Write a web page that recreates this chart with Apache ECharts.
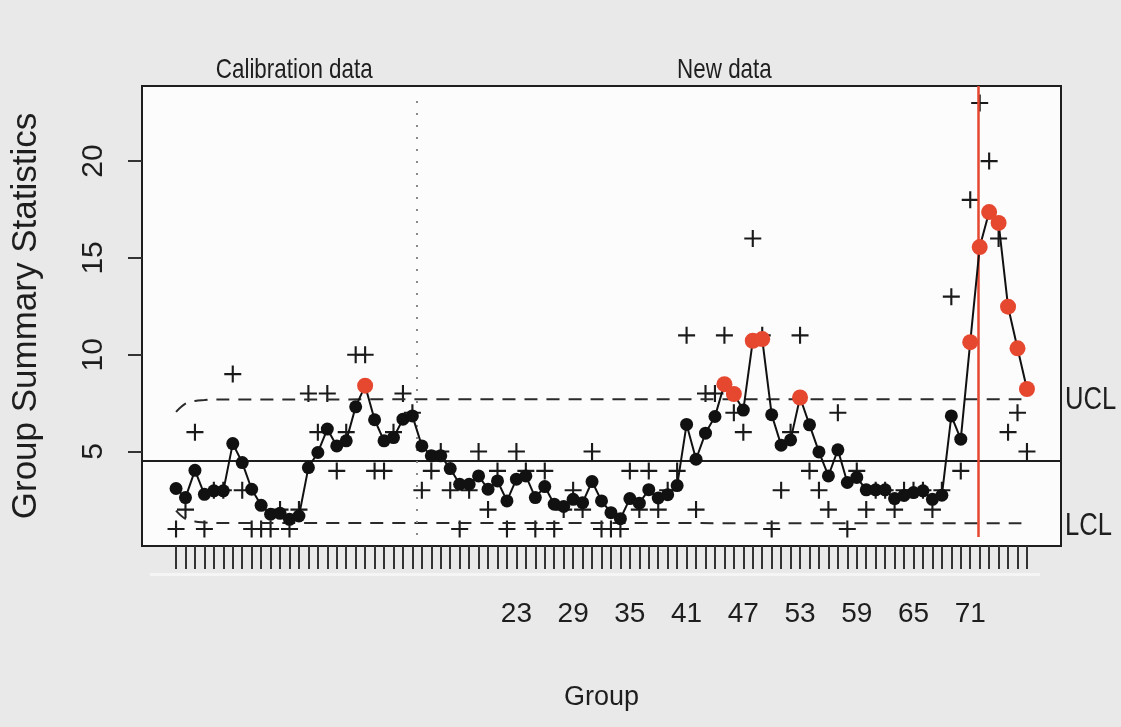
<!DOCTYPE html>
<html>
<head>
<meta charset="utf-8">
<script src="https://cdn.jsdelivr.net/npm/echarts@6/dist/echarts.min.js"></script>
<style>
  html, body { margin: 0; padding: 0; background: #e9e9e9; }
  #chart { width: 1121px; height: 727px; }
</style>
</head>
<body>
<div id="chart"></div>
<script>
// EWMA control chart: group statistics (+), smoothed statistic (dots + line),
// centre line and control limits, calibration vs. new data.

// Group summary statistics, one per group (plotted as "+")
const groupStats = [
  1, 2, 6, 1, 3, 3, 9, 3, 1, 1, 1, 2, 1, 2, 8, 6, 8, 4, 6, 10,
  10, 4, 4, 6, 8, 7, 3, 4, 5, 3, 1, 3, 5, 2, 4, 1, 5, 4, 1, 4,
  1, 2, 3, 2, 5, 1, 1, 1, 4, 2, 4, 2, 3, 4, 11, 2, 8, 8, 11, 7,
  6, 16, 11, 1, 3, 6, 11, 4, 3, 2, 7, 1, 4, 2, 3, 3, 2, 3, 3, 3,
  2, 3, 13, 4, 18, 23, 20, 16, 6, 7, 5
];

// Smoothed (EWMA) statistic, one per group (plotted as dots joined by a line)
const ewmaStats = [
  3.09, 2.62, 4.03, 2.79, 2.97, 2.97, 5.41, 4.43, 3.05, 2.22,
  1.76, 1.81, 1.50, 1.67, 4.17, 4.95, 6.16, 5.29, 5.55, 7.31,
  8.40, 6.64, 5.55, 5.72, 6.67, 6.84, 5.29, 4.78, 4.78, 4.12,
  3.31, 3.31, 3.74, 3.05, 3.48, 2.45, 3.57, 3.74, 2.62, 3.19,
  2.28, 2.16, 2.53, 2.36, 3.45, 2.45, 1.84, 1.53, 2.57, 2.33,
  3.03, 2.60, 2.77, 3.24, 6.40, 4.60, 5.95, 6.81, 8.48, 7.97,
  7.14, 10.72, 10.81, 6.90, 5.33, 5.60, 7.79, 6.38, 4.98, 3.74,
  5.09, 3.40, 3.66, 3.02, 3.02, 3.02, 2.57, 2.73, 2.88, 2.97,
  2.53, 2.74, 6.84, 5.64, 10.65, 15.56, 17.37, 16.81, 12.48, 10.33,
  8.23
];

// Centre line and control limits (limits widen over the first groups)
const centerLine = 4.5;
const uclSteps = [[0, 7.05], [1, 7.48], [2, 7.61], [3, 7.66], [4, 7.69], [90, 7.70]];
const lclSteps = [[0, 1.95], [1, 1.52], [2, 1.39], [3, 1.34], [4, 1.31], [90, 1.30]];
const uclValue = 7.70;
const lclValue = 1.30;

// Number of calibration groups; the remaining groups are new data
const calibrationCount = 26;
// Group index at which the change is flagged
const changeIndex = 84.9;

// x tick labels and the group indices where they are printed
const xTickLabels = ['23', '29', '35', '41', '47', '53', '59', '65', '71'];
const xTickIndices = [36, 42, 48, 54, 60, 66, 72, 78, 84];
const yTickValues = [5, 10, 15, 20];

const nGroups = ewmaStats.length;
const pad = (nGroups - 1) * 0.04;
const xMin = -pad, xMax = nGroups - 1 + pad;
const yMin = 0.12, yMax = 23.88;

const RED = '#e5472f';
const INK = '#1e1e1e';
const SANS = "'Liberation Sans', Arial, sans-serif";

const allIdx = ewmaStats.map((_, i) => i);
const labelByIndex = {};
xTickIndices.forEach((ix, k) => { labelByIndex[ix] = xTickLabels[k]; });

const crossPath = 'path://M7,0h2v16h-2z M0,7h16v2h-16z';

const ewmaPoints = ewmaStats.map((v, i) => {
  const out = v > uclValue;
  return {
    value: [i, v],
    symbolSize: out ? 16 : 13,
    itemStyle: { color: out ? RED : '#111' }
  };
});

const chart = echarts.init(document.getElementById('chart'), null, { renderer: 'canvas' });

chart.setOption({
  backgroundColor: '#e9e9e9',
  animation: false,
  grid: {
    left: 142, right: 60, top: 86, bottom: 181,
    outerBoundsMode: 'none', containLabel: false,
    show: true, backgroundColor: '#fcfcfd', borderColor: INK, borderWidth: 2
  },
  xAxis: {
    type: 'value', min: xMin, max: xMax,
    name: 'Group', nameLocation: 'middle', nameGap: 138,
    nameTextStyle: { fontFamily: SANS, fontSize: 27, color: INK },
    axisLine: { show: false, onZero: false },
    splitLine: { show: false },
    axisTick: { show: true, length: 23, customValues: allIdx, lineStyle: { color: '#333', width: 2 } },
    axisLabel: {
      show: true, customValues: xTickIndices, margin: 54,
      fontFamily: SANS, fontSize: 28, color: INK,
      formatter: (v) => labelByIndex[Math.round(v)] || ''
    }
  },
  yAxis: {
    type: 'value', min: yMin, max: yMax,
    name: 'Group Summary Statistics', nameLocation: 'middle', nameGap: 98, nameRotate: 90,
    nameTextStyle: { fontFamily: SANS, fontSize: 35, color: INK },
    axisLine: { show: false, onZero: false },
    splitLine: { show: false },
    axisTick: { show: true, length: 14, customValues: yTickValues, lineStyle: { color: '#333', width: 2 } },
    axisLabel: {
      show: true, customValues: yTickValues, rotate: 90, margin: 33,
      fontFamily: SANS, fontSize: 30, color: INK
    }
  },
  series: [
    {
      // centre line and change markers
      type: 'line', data: [], silent: true,
      markLine: {
        silent: true, symbol: 'none', label: { show: false },
        data: [
          [{ coord: [xMin, centerLine], lineStyle: { color: INK, width: 2, type: 'solid' } },
           { coord: [xMax, centerLine] }],
          [{ coord: [calibrationCount - 0.5, 0.69], lineStyle: { color: '#8a8a8a', width: 2, type: [2, 10] } },
           { coord: [calibrationCount - 0.5, 23.31] }],
          [{ coord: [changeIndex, 0.58], lineStyle: { color: RED, width: 2.5, type: 'solid' } },
           { coord: [changeIndex, yMax] }]
        ]
      }
    },
    {
      name: 'UCL', type: 'line', data: uclSteps, symbol: 'none', silent: true,
      smooth: 0.4,
      lineStyle: { color: '#2a2a2a', width: 2, type: [13, 9] }
    },
    {
      name: 'LCL', type: 'line', data: lclSteps, symbol: 'none', silent: true,
      smooth: 0.4,
      lineStyle: { color: '#2a2a2a', width: 2, type: [13, 9] }
    },
    {
      name: 'Group statistic', type: 'scatter',
      data: groupStats.map((v, i) => [i, v]),
      symbol: crossPath, symbolSize: 17,
      itemStyle: { color: '#1a1a1a', opacity: 1 }, silent: true
    },
    {
      name: 'EWMA', type: 'line', data: ewmaPoints,
      symbol: 'circle', showAllSymbol: true,
      lineStyle: { color: '#111', width: 2 },
      z: 5
    }
  ]
});

// Annotations placed through the chart's own scales
const px = (x, y) => chart.convertToPixel({ gridIndex: 0 }, [x, y]);
const calMid = px((calibrationCount - 1) / 2, yMax);
const newMid = px((calibrationCount + nGroups - 1) / 2, yMax);
const uclPx = px(xMax, uclValue);
const lclPx = px(xMax, lclValue);

// condensed-looking captions: taller glyphs squeezed horizontally
const caption = (text, x, y, size, align) => ({
  type: 'text', x: x, y: y, scaleX: 0.8, scaleY: 1,
  style: { text: text, font: size + 'px ' + SANS, fill: INK, textAlign: align, textVerticalAlign: 'middle' }
});

chart.setOption({
  graphic: [
    caption('Calibration data', calMid[0], 70, 28, 'center'),
    caption('New data', newMid[0], 70, 28, 'center'),
    caption('UCL', uclPx[0] + 4, uclPx[1] + 1, 32, 'left'),
    caption('LCL', lclPx[0] + 4, lclPx[1] + 3, 32, 'left'),
    { type: 'rect', shape: { x: 150, y: 573, width: 890, height: 3 }, style: { fill: '#f5f5f5' }, silent: true }
  ]
});
</script>
</body>
</html>
